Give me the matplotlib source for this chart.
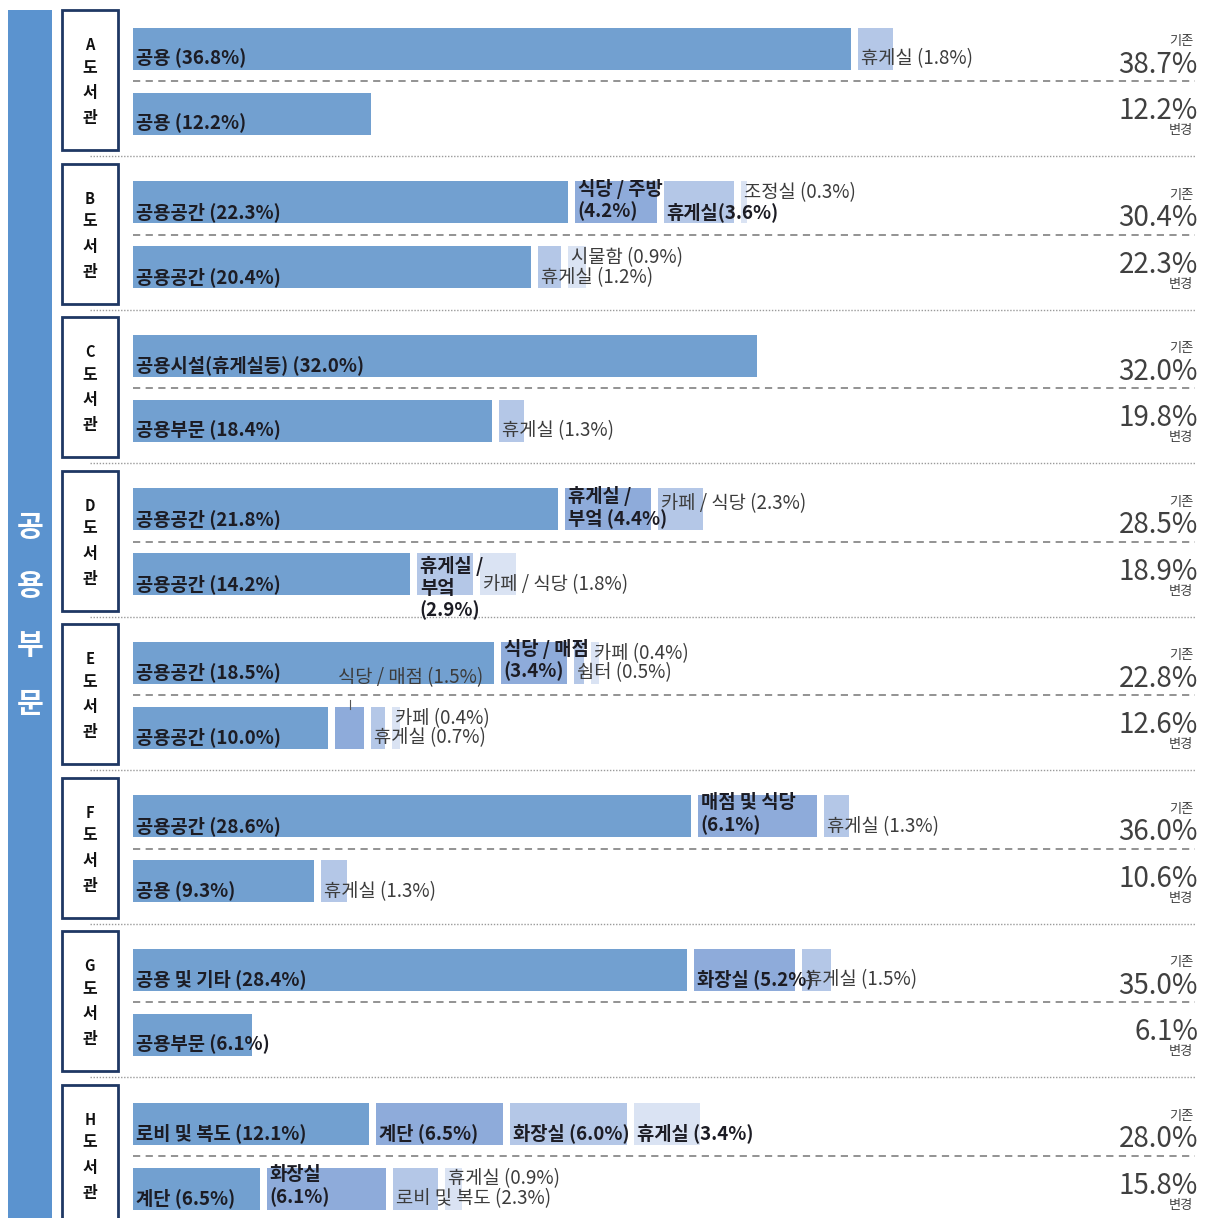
import matplotlib
matplotlib.use("Agg")
import matplotlib.pyplot as plt
from matplotlib.patches import Rectangle
from matplotlib.transforms import blended_transform_factory

plt.rcParams['font.family'] = ['Noto Sans CJK KR', 'DejaVu Sans']

# ---------------- data ----------------
section_title = '공용부문'
libraries = ['A', 'B', 'C', 'D', 'E', 'F', 'G', 'H']

old_names = [
    ['공용', '휴게실'],
    ['공용공간', '식당 / 주방', '휴게실', '조정실'],
    ['공용시설(휴게실등)'],
    ['공용공간', '휴게실 /\n부엌', '카페 / 식당'],
    ['공용공간', '식당 / 매점', '쉼터', '카페'],
    ['공용공간', '매점 및 식당', '휴게실'],
    ['공용 및 기타', '화장실', '휴게실'],
    ['로비 및 복도', '계단', '화장실', '휴게실'],
]
old_values = [
    [36.8, 1.8],
    [22.3, 4.2, 3.6, 0.3],
    [32.0],
    [21.8, 4.4, 2.3],
    [18.5, 3.4, 0.5, 0.4],
    [28.6, 6.1, 1.3],
    [28.4, 5.2, 1.5],
    [12.1, 6.5, 6.0, 3.4],
]
new_names = [
    ['공용'],
    ['공용공간', '휴게실', '시물함'],
    ['공용부문', '휴게실'],
    ['공용공간', '휴게실 /\n부엌', '카페 / 식당'],
    ['공용공간', '식당 / 매점', '휴게실', '카페'],
    ['공용', '휴게실'],
    ['공용부문'],
    ['계단', '화장실', '로비 및 복도', '휴게실'],
]
new_values = [
    [12.2],
    [20.4, 1.2, 0.9],
    [18.4, 1.3],
    [14.2, 2.9, 1.8],
    [10.0, 1.5, 0.7, 0.4],
    [9.3, 1.3],
    [6.1],
    [6.5, 6.1, 2.3, 0.9],
]
old_totals = [38.7, 30.4, 32.0, 28.5, 22.8, 36.0, 35.0, 28.0]
new_totals = [12.2, 22.3, 19.8, 18.9, 12.6, 10.6, 6.1, 15.8]
old_tag = '기존'
new_tag = '변경'

# ---------------- styles ----------------
shades = ['#72A0D0', '#8EABDA', '#B4C7E7', '#DAE3F3']
old_shade = [[0, 2], [0, 1, 2, 3], [0], [0, 1, 2], [0, 1, 2, 3], [0, 1, 2], [0, 1, 2], [0, 1, 2, 3]]
new_shade = [[0], [0, 2, 3], [0, 2], [0, 2, 3], [0, 1, 2, 3], [0, 2], [0], [0, 1, 2, 3]]
old_sep = [[' ', ' '], [' ', '\n', '', ' '], [' '], [' ', ' ', ' '], [' ', '\n', ' ', ' '],
           [' ', '\n', ' '], [' ', ' ', ' '], [' ', ' ', ' ', ' ']]
new_sep = [[' '], [' ', ' ', ' '], [' ', ' '], [' ', '\n', ' '], [' ', ' ', ' ', ' '],
           [' ', ' '], [' '], [' ', '\n', ' ', ' ']]
old_pos = [['low', 'low'], ['low', 'two', 'low', 'high'], ['low'], ['low', 'two', 'mid'],
           ['low', 'two', 'low', 'high'], ['low', 'two', 'low'], ['low', 'low', 'low'],
           ['low', 'low', 'low', 'low']]
new_pos = [['low'], ['low', 'low', 'high'], ['low', 'low'], ['low', 'three', 'low'],
           ['low', 'above', 'low', 'high'], ['low', 'low'], ['low'], ['low', 'two', 'low', 'high']]
pos_offset = {'low': 0.063, 'high': -0.064, 'mid': -0.039, 'two': -0.017,
              'three': 0.09, 'above': -0.33}

W, H = 1206, 1218
PX_PER_PCT = 19.5
X0 = 133           # pixel where 0 % sits
GAP = 0.36         # gap between segments (in %)
PITCH = 153.5      # px per group
ROW2 = 65 / PITCH  # offset of second row
BAR_H = 42 / PITCH
Y0 = 49            # pixel of first row centre
LINE = 22 / PITCH  # line pitch of multi-line labels

fig = plt.figure(figsize=(W / 100, H / 100), dpi=100)
ax = fig.add_axes([0, 0, 1, 1])
ax.set_xlim(-X0 / PX_PER_PCT, (W - X0) / PX_PER_PCT)
ax.set_ylim((H - Y0) / PITCH, -Y0 / PITCH)
ax.axis('off')

fx = lambda px: px / W
blend = blended_transform_factory(fig.transFigure, ax.transData)
axblend = ax.get_yaxis_transform()

LABEL_FS = 13.5
TEXT_DARK = '#1c1c24'
TEXT_THIN = '#3c3c3c'
BOLD_MIN = 2.5   # segments narrower than this get a light label (mostly outside bar)


def draw_row(y, names, values, shade, seps, poss):
    left = 0.0
    for n, v, s, sp, ps in zip(names, values, shade, seps, poss):
        ax.barh(y, v, left=left, height=BAR_H, color=shades[s],
                edgecolor='none', zorder=2)
        label = f'{n}{sp}({v:.1f}%)'
        lines = label.split('\n')
        ty = y + pos_offset[ps]
        tx = left + 0.15
        if ps == 'above':
            ax.plot([left + v / 2, left + v / 2], [y - BAR_H / 2 - 0.045, y - BAR_H / 2 + 0.01],
                    color='#555555', lw=0.8, zorder=3)
        bold = v >= BOLD_MIN
        for j, ln in enumerate(lines):
            ly = ty + (j - (len(lines) - 1) / 2) * LINE
            ax.text(tx, ly, ln, fontsize=LABEL_FS,
                    color=TEXT_DARK if bold else TEXT_THIN,
                    fontweight='bold' if bold else 'normal',
                    ha='left', va='center', zorder=10)
        left += v + GAP


for i, lib in enumerate(libraries):
    yt = i
    yb = i + ROW2
    draw_row(yt, old_names[i], old_values[i], old_shade[i], old_sep[i], old_pos[i])
    draw_row(yb, new_names[i], new_values[i], new_shade[i], new_sep[i], new_pos[i])

    # dashed divider between rows
    ax.plot([fx(133), fx(1195)], [i + ROW2 / 2] * 2, transform=axblend,
            color='#8a8a8a', lw=1.3, linestyle=(0, (4, 3)), zorder=1)
    # group separator
    if i < len(libraries) - 1:
        ax.plot([fx(90), fx(1195)], [i + 0.70] * 2, transform=axblend,
                color='#9a9a9a', lw=1.0, linestyle=(0, (1, 1.2)), zorder=1)

    # library box
    box = Rectangle((fx(62), i - 0.254), fx(56), 0.912, transform=blend,
                    facecolor='white', edgecolor='#1F3864', lw=2.0, zorder=5)
    ax.add_artist(box)
    chars = [lib, '도', '서', '관']
    offs = [-0.026, 0.124, 0.287, 0.45]
    for c, o in zip(chars, offs):
        ax.text(fx(90), i + o, c, transform=blend, ha='center', va='center',
                fontsize=10.5 if c == lib else 11.5, fontweight='bold',
                color='#111111', zorder=6)

    # totals
    ax.text(fx(1193), i - 0.046, old_tag, transform=axblend, ha='right', va='center',
            fontsize=9.5, color='#404040', zorder=6)
    ax.text(fx(1198), i + 0.104, f'{old_totals[i]:.1f}%', transform=axblend, ha='right',
            va='center', fontsize=20, color='#404040', zorder=6)
    ax.text(fx(1198), i + 0.404, f'{new_totals[i]:.1f}%', transform=axblend, ha='right',
            va='center', fontsize=20, color='#404040', zorder=6)
    ax.text(fx(1193), i + 0.534, new_tag, transform=axblend, ha='right', va='center',
            fontsize=9.5, color='#404040', zorder=6)

# left band
band = Rectangle((8 / W, 0), 44 / W, (H - 10) / H, transform=fig.transFigure,
                 facecolor='#5B93CF', edgecolor='none', zorder=0)
fig.add_artist(band)
for c, py in zip(section_title, [527, 586, 645, 704]):
    fig.text(30 / W, 1 - py / H, c, ha='center', va='center', fontsize=21,
             fontweight='bold', color='white')

fig.savefig('out.png', dpi=100, facecolor='white')
